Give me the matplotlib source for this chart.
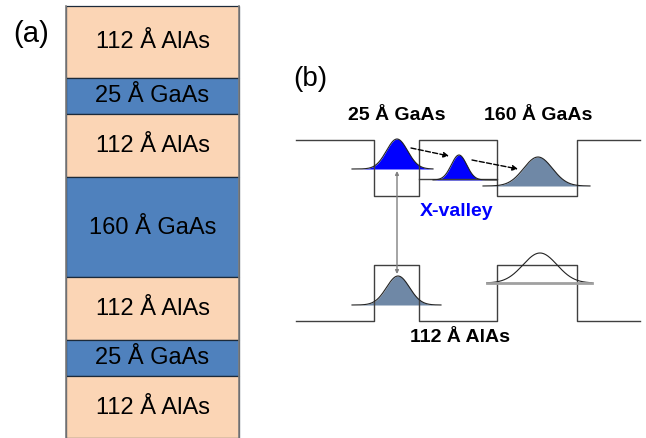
import matplotlib.pyplot as plt
import numpy as np

plt.rcParams['font.family'] = ['Liberation Sans', 'DejaVu Sans']

# layer stack of panel (a), top to bottom
layer_names = ['112 Å AlAs', '25 Å GaAs', '112 Å AlAs', '160 Å GaAs',
               '112 Å AlAs', '25 Å GaAs', '112 Å AlAs']
layer_size = [72, 36, 63, 100, 63, 36, 62]
layer_kind = ['AlAs', 'GaAs', 'AlAs', 'GaAs', 'AlAs', 'GaAs', 'AlAs']

# band edges of panel (b): x break points and level in each segment
gamma_x = [296, 374, 419, 497, 577, 640]
gamma_y = [140, 196, 140, 196, 140]
xband_y = [321, 265, 321, 265, 321]
xlevel_mid = 179

# wave functions: centre, sigma, baseline, height, x range
wf_x0 = [397, 459, 538, 398, 540]
wf_sig = [10.6, 7.7, 14.4, 11.5, 17.0]
wf_base = [169, 180, 186, 305, 283]
wf_amp = [30, 25, 29, 29, 30]
wf_lo = [352, 433, 483, 352, 487]
wf_hi = [433, 497, 590, 441, 592]
wf_fill = ['#0000ff', '#0000ff', '#6f88a6', '#6f88a6', 'white']

fig = plt.figure(figsize=(6.46, 4.38), dpi=100)
ax = fig.add_axes([0, 0, 1, 1])
ax.set_xlim(0, 646)
ax.set_ylim(438, 0)
ax.axis('off')

# ---- panel (a) ----
colors = {'AlAs': '#fbd5b5', 'GaAs': '#4f81bd'}
x0, x1 = 66, 239
y = 5.5
for name, h, kind in zip(layer_names, layer_size, layer_kind):
    ax.add_patch(plt.Rectangle((x0, y), x1 - x0, h, facecolor=colors[kind],
                               edgecolor='#1c2a3a', lw=0.9))
    ax.text((x0 + x1) / 2, y + h / 2 + 1, name, ha='center', va='center',
            fontsize=17)
    y += h
ax.plot([x0, x0], [5.5, 438], color='#7f7f7f', lw=1.2)
ax.plot([x1, x1], [5.5, 438], color='#7f7f7f', lw=1.2)
ax.text(31.5, 33.5, '(a)', fontsize=21, ha='center', va='center')

# ---- panel (b) ----
ax.text(310, 79.5, '(b)', fontsize=20, ha='center', va='center')

def step_line(xs, ys):
    px, py = [], []
    for i, lev in enumerate(ys):
        px += [xs[i], xs[i + 1]]
        py += [lev, lev]
    ax.plot(px, py, color='#404040', lw=1.0)

step_line(gamma_x, gamma_y)
step_line(gamma_x, xband_y)
ax.plot([gamma_x[2], gamma_x[3]], [xlevel_mid, xlevel_mid], color='#404040', lw=1.0)

for i in range(5):
    xs = np.linspace(wf_lo[i], wf_hi[i], 300)
    ys = wf_base[i] - wf_amp[i] * np.exp(-0.5 * ((xs - wf_x0[i]) / wf_sig[i]) ** 2)
    ax.fill_between(xs, wf_base[i], ys, color=wf_fill[i], lw=0)
    ax.plot(xs, ys, color='#222222', lw=0.8)
    if i == 4:
        ax.plot([wf_lo[i], wf_hi[i]], [wf_base[i], wf_base[i]], color='#a0a0a0', lw=2)

# transfer arrows
ax.annotate('', xy=(449, 156), xytext=(411, 148),
            arrowprops=dict(arrowstyle='-|>', ls='--', color='black', lw=1.0,
                            mutation_scale=8, shrinkA=0, shrinkB=0))
ax.annotate('', xy=(518, 169), xytext=(472, 160),
            arrowprops=dict(arrowstyle='-|>', ls='--', color='black', lw=1.0,
                            mutation_scale=8, shrinkA=0, shrinkB=0))
ax.annotate('', xy=(397, 274), xytext=(397, 171),
            arrowprops=dict(arrowstyle='<|-|>', color='#808080', lw=1.0,
                            mutation_scale=5, shrinkA=0, shrinkB=0))

ax.text(397, 115, '25 Å GaAs', fontsize=14, fontweight='bold', ha='center', va='center')
ax.text(538, 115, '160 Å GaAs', fontsize=14, fontweight='bold', ha='center', va='center')
ax.text(457, 212, 'X-valley', fontsize=14, fontweight='bold', color='#0000ff',
        ha='center', va='center')
ax.text(460, 337, '112 Å AlAs', fontsize=14, fontweight='bold', ha='center', va='center')

fig.savefig('out.png', dpi=100)
